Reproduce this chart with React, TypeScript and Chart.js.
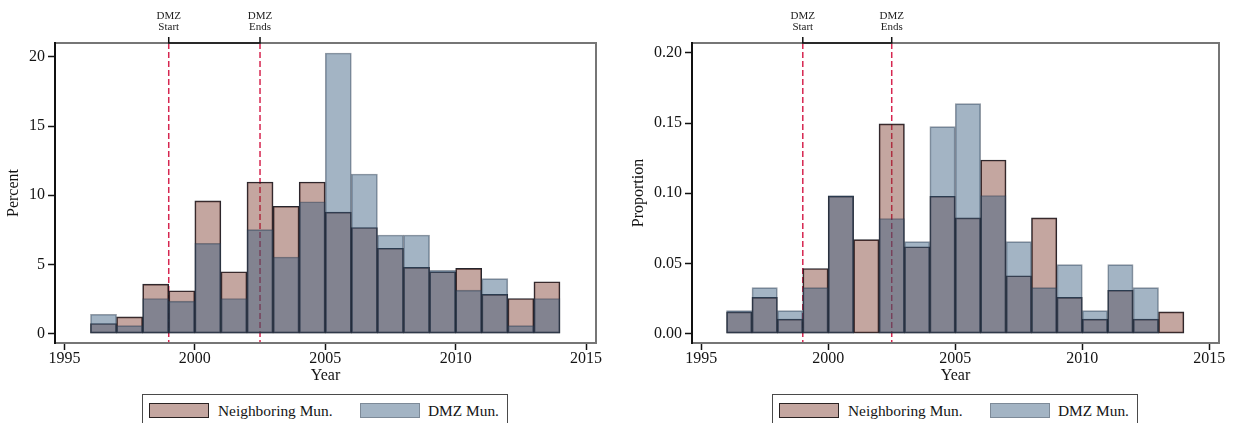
import React, { useEffect, useRef } from 'react';
import { Chart, registerables } from 'chart.js';

Chart.register(...registerables);

// ---------- data ----------
const binStarts = [1996, 1997, 1998, 1999, 2000, 2001, 2002, 2003, 2004, 2005, 2006, 2007, 2008, 2009, 2010, 2011, 2012, 2013];
const percentNeighboring = [0.73, 1.21, 3.58, 3.10, 9.60, 4.47, 10.96, 9.21, 10.96, 8.78, 7.67, 6.17, 4.79, 4.47, 4.72, 2.83, 2.54, 3.75];
const percentDMZ = [1.40, 0.58, 2.54, 2.35, 6.53, 2.54, 7.52, 5.54, 9.53, 20.29, 11.54, 7.13, 7.13, 4.57, 3.14, 3.97, 0.58, 2.54];
const proportionNeighboring = [0.0155, 0.0258, 0.0103, 0.0464, 0.0979, 0.0670, 0.1495, 0.0619, 0.0979, 0.0825, 0.1237, 0.0412, 0.0825, 0.0258, 0.0103, 0.0309, 0.0103, 0.0155];
const proportionDMZ = [0.0164, 0.0328, 0.0164, 0.0328, 0.0984, 0, 0.0820, 0.0656, 0.1475, 0.1639, 0.0984, 0.0656, 0.0328, 0.0492, 0.0164, 0.0492, 0.0328, 0];
const yearTicks = [1995, 2000, 2005, 2010, 2015];
const percentTicks = [0, 5, 10, 15, 20];
const proportionTicks = [0, 0.05, 0.1, 0.15, 0.2];
const dmzMarkers = [
  { year: 1999, lines: ['DMZ', 'Start'] },
  { year: 2002.5, lines: ['DMZ', 'Ends'] },
];
const seriesLabels = ['Neighboring Mun.', 'DMZ Mun.'];

// ---------- styles ----------
const SERIF = '"Liberation Serif", "Times New Roman", serif';
const NEIGH_FILL = 'rgba(124,57,44,0.45)';
const DMZ_FILL = 'rgba(51,88,124,0.45)';
const NEIGH_BORDER = 'rgba(18,18,26,0.92)';
const DMZ_BORDER = 'rgba(40,55,75,0.5)';
const TEXT = '#141414';

const dmzPlugin = {
  id: 'dmzMarks',
  beforeDatasetsDraw(chart: any) {
    const { ctx, chartArea: a, scales } = chart;
    const x = scales.x;
    ctx.save();
    ctx.strokeStyle = 'rgb(214,38,80)';
    ctx.lineWidth = 1.5;
    ctx.setLineDash([6, 3]);
    dmzMarkers.forEach((m) => {
      const px = x.getPixelForValue(m.year);
      ctx.beginPath();
      ctx.moveTo(px, a.top);
      ctx.lineTo(px, a.bottom);
      ctx.stroke();
    });
    ctx.restore();
  },
  afterDatasetsDraw(chart: any) {
    const { ctx, chartArea: a, scales } = chart;
    const x = scales.x;
    ctx.save();
    // frame
    ctx.strokeStyle = 'rgb(118,118,118)';
    ctx.lineWidth = 2;
    ctx.strokeRect(a.left, a.top, a.right - a.left, a.bottom - a.top);
    // y-axis line
    ctx.strokeStyle = '#111';
    ctx.beginPath();
    ctx.moveTo(a.left, a.top - 1);
    ctx.lineTo(a.left, a.bottom + 1);
    ctx.stroke();
    // bracket at top
    const x1 = x.getPixelForValue(dmzMarkers[0].year);
    const x2 = x.getPixelForValue(dmzMarkers[1].year);
    ctx.lineWidth = 1.5;
    ctx.beginPath();
    ctx.moveTo(x1, a.top - 6);
    ctx.lineTo(x1, a.top);
    ctx.lineTo(x2, a.top);
    ctx.lineTo(x2, a.top - 6);
    ctx.stroke();
    // labels
    ctx.fillStyle = '#222';
    ctx.font = `11px ${SERIF}`;
    ctx.textAlign = 'center';
    ctx.textBaseline = 'middle';
    dmzMarkers.forEach((m) => {
      const px = x.getPixelForValue(m.year);
      m.lines.forEach((t, i) => ctx.fillText(t, px, 16.5 + i * 10.5));
    });
    ctx.restore();
  },
};

function makeConfig(
  neigh: number[],
  dmz: number[],
  yTicks: number[],
  yMin: number,
  yMax: number,
  yTitle: string,
  yWidth: number,
  yTitlePad: number,
  rightPad: number,
  fmt: (v: number) => string
): any {
  const toPoints = (vals: number[]) =>
    binStarts.map((b, i) => ({ x: b + 0.5, y: vals[i] === 0 ? null : vals[i] }));
  return {
    type: 'bar',
    data: {
      datasets: [
        {
          label: seriesLabels[0],
          data: toPoints(neigh),
          backgroundColor: NEIGH_FILL,
          borderColor: NEIGH_BORDER,
          borderWidth: 1,
          borderSkipped: false,
          grouped: false,
          barPercentage: 1,
          categoryPercentage: 1,
          order: 1,
        },
        {
          label: seriesLabels[1],
          data: toPoints(dmz),
          backgroundColor: DMZ_FILL,
          borderColor: DMZ_BORDER,
          borderWidth: 1,
          borderSkipped: false,
          grouped: false,
          barPercentage: 1,
          categoryPercentage: 1,
          order: 0,
        },
      ],
    },
    options: {
      responsive: false,
      animation: false,
      layout: { padding: { top: 43, right: rightPad, left: 0, bottom: 0 } },
      plugins: { legend: { display: false }, tooltip: { enabled: false } },
      scales: {
        x: {
          type: 'linear',
          min: 1994.64,
          max: 2015.38,
          offset: false,
          afterBuildTicks: (s: any) => {
            s.ticks = yearTicks.map((v) => ({ value: v }));
          },
          afterFit: (s: any) => {
            s.height = 47;
          },
          grid: {
            display: true,
            drawOnChartArea: false,
            drawTicks: true,
            tickLength: 7,
            offset: false,
            color: '#111',
            tickColor: '#111',
            tickWidth: 1.5,
          },
          border: { display: false },
          ticks: {
            font: { family: SERIF, size: 16, lineHeight: 1 },
            color: TEXT,
            padding: 1,
            maxRotation: 0,
            autoSkip: false,
            callback: (v: any) => String(v),
          },
          title: {
            display: true,
            text: 'Year',
            font: { family: SERIF, size: 16 },
            color: TEXT,
            padding: { top: 0, bottom: 5 },
          },
        },
        y: {
          type: 'linear',
          min: yMin,
          max: yMax,
          afterBuildTicks: (s: any) => {
            s.ticks = yTicks.map((v) => ({ value: v }));
          },
          afterFit: (s: any) => {
            s.width = yWidth;
          },
          grid: {
            display: true,
            drawOnChartArea: false,
            drawTicks: true,
            tickLength: 7,
            color: '#111',
            tickColor: '#111',
            tickWidth: 1.5,
          },
          border: { display: false },
          ticks: {
            font: { family: SERIF, size: 16 },
            color: TEXT,
            padding: 3,
            autoSkip: false,
            callback: (v: any) => fmt(Number(v)),
          },
          title: {
            display: true,
            text: yTitle,
            font: { family: SERIF, size: 16 },
            color: TEXT,
            padding: { top: yTitlePad, bottom: 0 },
          },
        },
      },
    },
    plugins: [dmzPlugin],
  };
}

function ChartCanvas({ left, config }: { left: number; config: any }) {
  const ref = useRef<HTMLCanvasElement | null>(null);
  useEffect(() => {
    if (!ref.current) return;
    const chart = new Chart(ref.current, config);
    return () => chart.destroy();
  }, [config]);
  return (
    <canvas
      ref={ref}
      width={617}
      height={390}
      style={{ position: 'absolute', left, top: 0, width: 617, height: 390, display: 'block' }}
    />
  );
}

function Legend({ left }: { left: number }) {
  const textStyle: React.CSSProperties = {
    position: 'absolute',
    top: 8,
    fontFamily: SERIF,
    fontSize: 15.4,
    lineHeight: '16px',
    color: TEXT,
    whiteSpace: 'nowrap',
  };
  const sw: React.CSSProperties = {
    position: 'absolute',
    top: 8,
    width: 60,
    height: 15,
    boxSizing: 'border-box',
  };
  return (
    <div
      style={{
        position: 'absolute',
        left,
        top: 394,
        width: 366,
        height: 36,
        boxSizing: 'border-box',
        border: '1px solid #4a4a4a',
        background: '#fff',
      }}
    >
      <div style={{ ...sw, left: 6, background: 'rgb(196,166,160)', border: '1px solid #2a2222' }} />
      <span style={{ ...textStyle, left: 75 }}>{seriesLabels[0]}</span>
      <div style={{ ...sw, left: 217, background: 'rgb(163,180,196)', border: '1px solid #7d8a98' }} />
      <span style={{ ...textStyle, left: 285 }}>{seriesLabels[1]}</span>
    </div>
  );
}

const leftConfig = makeConfig(
  percentNeighboring,
  percentDMZ,
  percentTicks,
  -0.68,
  21.01,
  'Percent',
  55,
  4,
  21,
  (v) => String(v)
);
const rightConfig = makeConfig(
  proportionNeighboring,
  proportionDMZ,
  proportionTicks,
  -0.0067,
  0.2071,
  'Proportion',
  75,
  12,
  15,
  (v) => v.toFixed(2)
);

export default function App() {
  return (
    <div
      style={{
        position: 'fixed',
        left: 0,
        top: 0,
        width: 1234,
        height: 423,
        overflow: 'hidden',
        background: '#fff',
      }}
    >
      <ChartCanvas left={0} config={leftConfig} />
      <ChartCanvas left={617} config={rightConfig} />
      <Legend left={142} />
      <Legend left={772} />
    </div>
  );
}
